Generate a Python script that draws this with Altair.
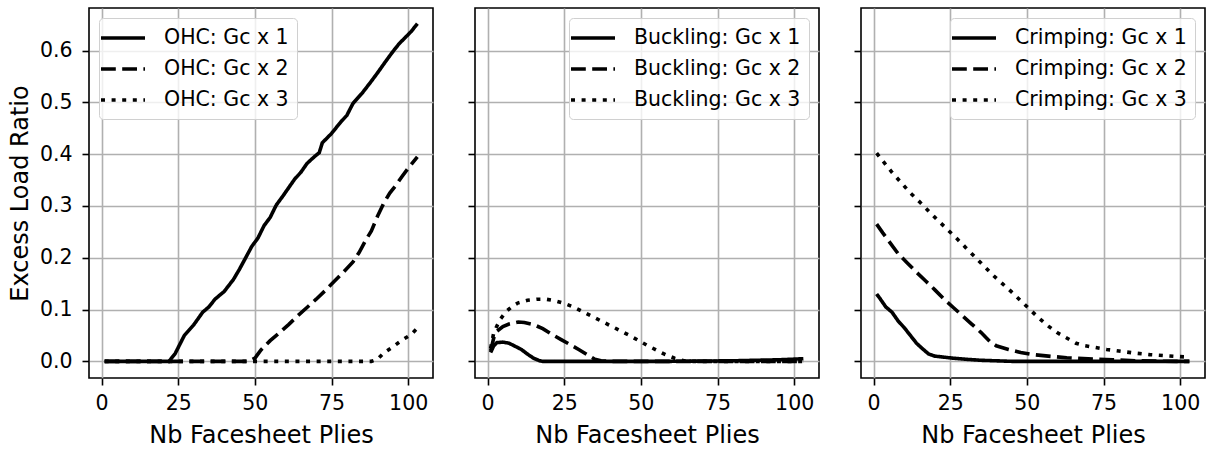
import altair as alt
import pandas as pd

# ---------------- data ----------------
ohc1_x = [1, 22, 24, 27, 30, 33, 35, 37, 40, 43, 45, 47, 49, 51, 53, 55, 57, 59, 61, 63, 65, 67, 69, 71, 72, 75, 78, 80, 82, 85, 88, 90, 93, 95, 97, 99, 101, 103]
ohc1_y = [0, 0, 0.015, 0.05, 0.07, 0.095, 0.105, 0.12, 0.135, 0.158, 0.178, 0.2, 0.222, 0.238, 0.262, 0.278, 0.302, 0.318, 0.335, 0.352, 0.365, 0.382, 0.393, 0.403, 0.422, 0.44, 0.462, 0.475, 0.498, 0.518, 0.541, 0.557, 0.582, 0.598, 0.613, 0.625, 0.637, 0.652]
ohc2_x = [1, 48, 50, 52, 55, 58, 61, 64, 67, 70, 73, 76, 79, 82, 84, 86, 88, 90, 92, 94, 96, 98, 100, 103]
ohc2_y = [0, 0, 0.006, 0.022, 0.04, 0.055, 0.071, 0.088, 0.104, 0.12, 0.137, 0.155, 0.173, 0.192, 0.21, 0.232, 0.252, 0.28, 0.305, 0.325, 0.34, 0.357, 0.373, 0.395]
ohc3_x = [1, 88, 90, 92, 95, 98, 101, 103]
ohc3_y = [0, 0, 0.004, 0.016, 0.028, 0.041, 0.052, 0.064]

buck1_x = [1, 2, 3, 5, 7, 9, 11, 13, 15, 17, 18, 40, 60, 80, 95, 103]
buck1_y = [0.017, 0.03, 0.036, 0.037, 0.035, 0.029, 0.023, 0.014, 0.006, 0.001, 0, 0, 0, 0.001, 0.003, 0.005]
buck2_x = [1, 2, 3, 5, 7, 10, 12, 15, 18, 21, 24, 27, 30, 33, 35, 37, 40, 103]
buck2_y = [0.02, 0.045, 0.058, 0.067, 0.072, 0.076, 0.075, 0.071, 0.063, 0.052, 0.042, 0.032, 0.022, 0.011, 0.004, 0.001, 0, 0]
buck3_x = [1, 2, 4, 6, 8, 10, 13, 16, 19, 22, 25, 28, 31, 34, 37, 40, 43, 46, 49, 52, 55, 58, 61, 64, 67, 103]
buck3_y = [0.025, 0.055, 0.08, 0.096, 0.106, 0.113, 0.118, 0.12, 0.12, 0.117, 0.112, 0.105, 0.096, 0.087, 0.078, 0.069, 0.06, 0.051, 0.041, 0.031, 0.022, 0.013, 0.006, 0.001, 0, 0]

crimp1_x = [1, 2, 4, 6, 8, 10, 12, 14, 16, 18, 20, 23, 26, 30, 35, 40, 45, 103]
crimp1_y = [0.13, 0.122, 0.105, 0.095, 0.078, 0.065, 0.05, 0.035, 0.024, 0.014, 0.01, 0.008, 0.006, 0.004, 0.002, 0.001, 0, 0]
crimp2_x = [1, 3, 5, 8, 11, 14, 17, 20, 23, 26, 29, 32, 35, 38, 40, 44, 48, 52, 57, 63, 70, 78, 86, 95, 103]
crimp2_y = [0.265, 0.248, 0.232, 0.208, 0.19, 0.172, 0.155, 0.138, 0.12, 0.104, 0.088, 0.072, 0.056, 0.038, 0.03, 0.023, 0.017, 0.013, 0.01, 0.007, 0.005, 0.003, 0.001, 0, 0]
crimp3_x = [1, 3, 6, 9, 12, 15, 18, 21, 24, 27, 30, 33, 36, 39, 42, 45, 48, 51, 54, 57, 60, 63, 66, 69, 72, 76, 80, 85, 90, 95, 100, 103]
crimp3_y = [0.402, 0.387, 0.365, 0.345, 0.325, 0.308, 0.29, 0.272, 0.255, 0.238, 0.22, 0.202, 0.184, 0.166, 0.15, 0.134, 0.117, 0.1, 0.083, 0.068, 0.055, 0.045, 0.035, 0.03, 0.027, 0.023, 0.02, 0.016, 0.013, 0.011, 0.009, 0.008]

x_ticks = [0, 25, 50, 75, 100]
y_ticks = [0.0, 0.1, 0.2, 0.3, 0.4, 0.5, 0.6]
multipliers = ["Gc x 1", "Gc x 2", "Gc x 3"]
dashes = [[1, 0], [14.8, 6.4], [4, 6.6]]

PANEL_W = 344
PANEL_H = 370
FONT = "DejaVu Sans"


def make_df(name, xs, ys):
    rows = []
    for mult, xv, yv in zip(multipliers, xs, ys):
        for a, b in zip(xv, yv):
            rows.append({"x": a, "y": b, "series": f"{name}: {mult}"})
    return pd.DataFrame(rows)


def panel(name, xs, ys, first, legend_orient):
    df = make_df(name, xs, ys)
    labels = [f"{name}: {m}" for m in multipliers]
    yaxis = alt.Axis(
        values=y_ticks, format=".1f", labels=first,
        title="Excess Load Ratio" if first else None,
        grid=True, gridColor="#b0b0b0", gridWidth=1.6,
        domain=False, ticks=True, tickColor="black", tickWidth=1.6, tickSize=7,
        labelFont=FONT, labelFontSize=20.5, labelColor="black", labelPadding=10,
        titleFont=FONT, titleFontSize=24, titleFontWeight="normal", titleColor="black",
        titlePadding=7,
    )
    xaxis = alt.Axis(
        values=x_ticks, format="d", title="Nb Facesheet Plies",
        grid=True, gridColor="#b0b0b0", gridWidth=1.6,
        domain=False, ticks=True, tickColor="black", tickWidth=1.6, tickSize=7,
        labelFont=FONT, labelFontSize=20.5, labelColor="black", labelPadding=8,
        titleFont=FONT, titleFontSize=24, titleFontWeight="normal", titleColor="black",
        titlePadding=10,
    )
    legend = alt.Legend(
        title=None, orient=legend_orient, offset=10,
        symbolType="M-1.8,0H2.6", symbolSize=400, symbolStrokeWidth=3.6,
        symbolStrokeColor="black", symbolFillColor="transparent",
        labelFont=FONT, labelFontSize=20.5,
        labelColor="black", labelOffset=33, rowPadding=8,
        fillColor="rgba(255,255,255,0.8)", strokeColor="#d0d0d0",
        cornerRadius=4, padding=8, labelLimit=400,
    )
    return alt.Chart(df).mark_line(strokeWidth=3.6, color="black", clip=True).encode(
        x=alt.X("x:Q", scale=alt.Scale(domain=[-4.1, 108.1], nice=False, zero=False), axis=xaxis),
        y=alt.Y("y:Q", scale=alt.Scale(domain=[-0.0322, 0.6823], nice=False, zero=False), axis=yaxis),
        strokeDash=alt.StrokeDash("series:N", scale=alt.Scale(domain=labels, range=dashes),
                                  legend=legend, sort=labels),
        detail="series:N",
    ).properties(width=PANEL_W, height=PANEL_H)


p1 = panel("OHC", [ohc1_x, ohc2_x, ohc3_x], [ohc1_y, ohc2_y, ohc3_y], True, "top-left")
p2 = panel("Buckling", [buck1_x, buck2_x, buck3_x], [buck1_y, buck2_y, buck3_y], False, "top-right")
p3 = panel("Crimping", [crimp1_x, crimp2_x, crimp3_x], [crimp1_y, crimp2_y, crimp3_y], False, "top-right")

chart = alt.hconcat(p1, p2, p3, spacing=42, bounds="flush").resolve_scale(
    strokeDash="independent"
).resolve_legend(strokeDash="independent").configure_view(
    stroke="black", strokeWidth=1.6
).properties(
    padding={"left": 7, "top": 7, "right": 0, "bottom": 5}, background="white"
)

chart.save("out.html", embed_options={"renderer": "svg", "actions": False})
